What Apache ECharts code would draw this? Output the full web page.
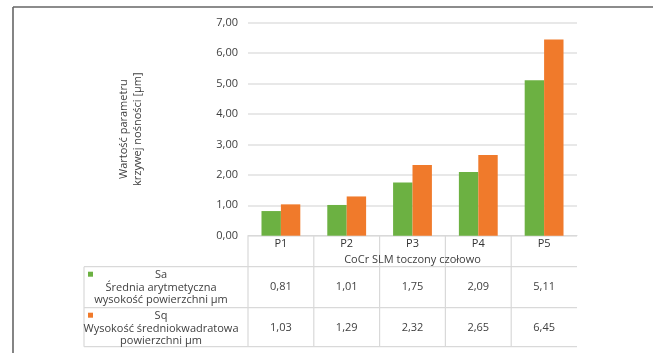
<!DOCTYPE html>
<html>
<head>
<meta charset="utf-8">
<script src="https://cdn.jsdelivr.net/npm/echarts@6/dist/echarts.min.js"></script>
<style>
html,body{margin:0;padding:0;background:#fff;}
#c{width:654px;height:353px;}
</style>
</head>
<body>
<div id="c"></div>
<script>
const categories = ['P1', 'P2', 'P3', 'P4', 'P5'];
const saValues = [0.81, 1.01, 1.75, 2.09, 5.11];
const sqValues = [1.03, 1.29, 2.32, 2.65, 6.45];
const seriesNames = ['Sa', 'Sq'];
const seriesDescriptions = [
  ['Średnia arytmetyczna', 'wysokość powierzchni µm'],
  ['Wysokość średniokwadratowa', 'powierzchni µm']
];
const xTitle = 'CoCr SLM toczony czołowo';
const yTitle = ['Wartość parametru', 'krzywej nośności [µm]'];
const yMin = 0, yMax = 7, yStep = 1;

const GREEN = '#6cb142';
const ORANGE = '#f07a2b';
const FONT = '"Open Sans", "Liberation Sans", sans-serif';
const fmt = v => v.toFixed(2).replace('.', ',');

const chart = echarts.init(document.getElementById('c'), null, {renderer: 'canvas'});

const gridTop = 22.7, gridBottomY = 235.7, gridLeft = 248, gridRight = 577;
const row1Y = 287, row2Y = 328;

const option = {
  animation: false,
  backgroundColor: '#fff',
  textStyle: {fontFamily: FONT},
  grid: {left: gridLeft, right: 654 - gridRight, top: gridTop, bottom: 353 - gridBottomY, containLabel: false},
  xAxis: [
    {
      type: 'category', data: categories, position: 'bottom',
      axisLine: {show: true, lineStyle: {color: '#d9d9d9', width: 1}},
      axisTick: {show: false},
      axisLabel: {color: '#333', fontSize: 11, fontFamily: FONT, margin: 3},
      name: xTitle, nameLocation: 'middle', nameGap: 17,
      nameTextStyle: {color: '#404040', fontSize: 11, fontFamily: FONT}
    },
    {
      type: 'category', data: saValues.map(fmt), position: 'bottom', offset: row1Y - gridBottomY,
      axisLine: {show: false}, axisTick: {show: false},
      axisLabel: {color: '#404040', fontSize: 11, fontFamily: FONT, margin: 0, verticalAlign: 'middle'}
    },
    {
      type: 'category', data: sqValues.map(fmt), position: 'bottom', offset: row2Y - gridBottomY,
      axisLine: {show: false}, axisTick: {show: false},
      axisLabel: {color: '#404040', fontSize: 11, fontFamily: FONT, margin: 0, verticalAlign: 'middle'}
    }
  ],
  yAxis: {
    type: 'value', min: yMin, max: yMax, interval: yStep,
    axisLine: {show: false}, axisTick: {show: false},
    axisLabel: {color: '#404040', fontSize: 11, fontFamily: FONT, margin: 10, formatter: v => fmt(v)},
    splitLine: {lineStyle: {color: '#e0e0e0', width: 1.5}},
    name: yTitle.join('\n'), nameLocation: 'middle', nameRotate: 90, nameGap: 103,
    nameTextStyle: {color: '#404040', fontSize: 11, fontFamily: FONT, lineHeight: 14, align: 'center'}
  },
  series: [
    {name: seriesNames[0], type: 'bar', data: saValues, xAxisIndex: 0, itemStyle: {color: GREEN}, barGap: '0%', barCategoryGap: '41%'},
    {name: seriesNames[1], type: 'bar', data: sqValues, xAxisIndex: 0, itemStyle: {color: ORANGE}, barGap: '0%', barCategoryGap: '41%'}
  ]
};
chart.setOption(option);

// Data table grid, positioned from the category axis scale
const centers = categories.map((c, i) => chart.convertToPixel({xAxisIndex: 0}, i));
const band = centers.length > 1 ? centers[1] - centers[0] : (gridRight - gridLeft);
const bounds = [centers[0] - band / 2].concat(centers.map(c => c + band / 2));
const tableLeft = 84, hdrBottom = 266.7, rowDiv = 307.7, tableBottom = 346.7;
const lineStyle = {stroke: '#d9d9d9', lineWidth: 1.2};
const g = [];
// frame
g.push({type: 'line', shape: {x1: 13, y1: 7, x2: 653, y2: 7}, style: {stroke: '#666', lineWidth: 1.6}});
g.push({type: 'line', shape: {x1: 13, y1: 7, x2: 13, y2: 353}, style: {stroke: '#666', lineWidth: 1.6}});
// horizontal lines
[hdrBottom, rowDiv, tableBottom].forEach(y => {
  g.push({type: 'line', shape: {x1: tableLeft, y1: y, x2: bounds[bounds.length - 1], y2: y}, style: lineStyle});
});
// vertical lines
bounds.slice(0, bounds.length - 1).forEach(x => {
  g.push({type: 'line', shape: {x1: x, y1: gridBottomY, x2: x, y2: tableBottom}, style: lineStyle});
});
g.push({type: 'line', shape: {x1: tableLeft, y1: hdrBottom, x2: tableLeft, y2: tableBottom}, style: lineStyle});
// legend keys and row headers
const rowTops = [hdrBottom, rowDiv];
const colors = [GREEN, ORANGE];
seriesNames.forEach((n, i) => {
  const top = rowTops[i];
  g.push({type: 'rect', shape: {x: 88, y: top + 5, width: 5, height: 5}, style: {fill: colors[i]}});
  g.push({type: 'text', x: 161, y: top + 1.5,
    style: {text: [n].concat(seriesDescriptions[i]).join('\n'), fill: '#404040', font: '11px ' + FONT,
      align: 'center', verticalAlign: 'top', lineHeight: 12.8}});
});
chart.setOption({graphic: g});
</script>
</body>
</html>
